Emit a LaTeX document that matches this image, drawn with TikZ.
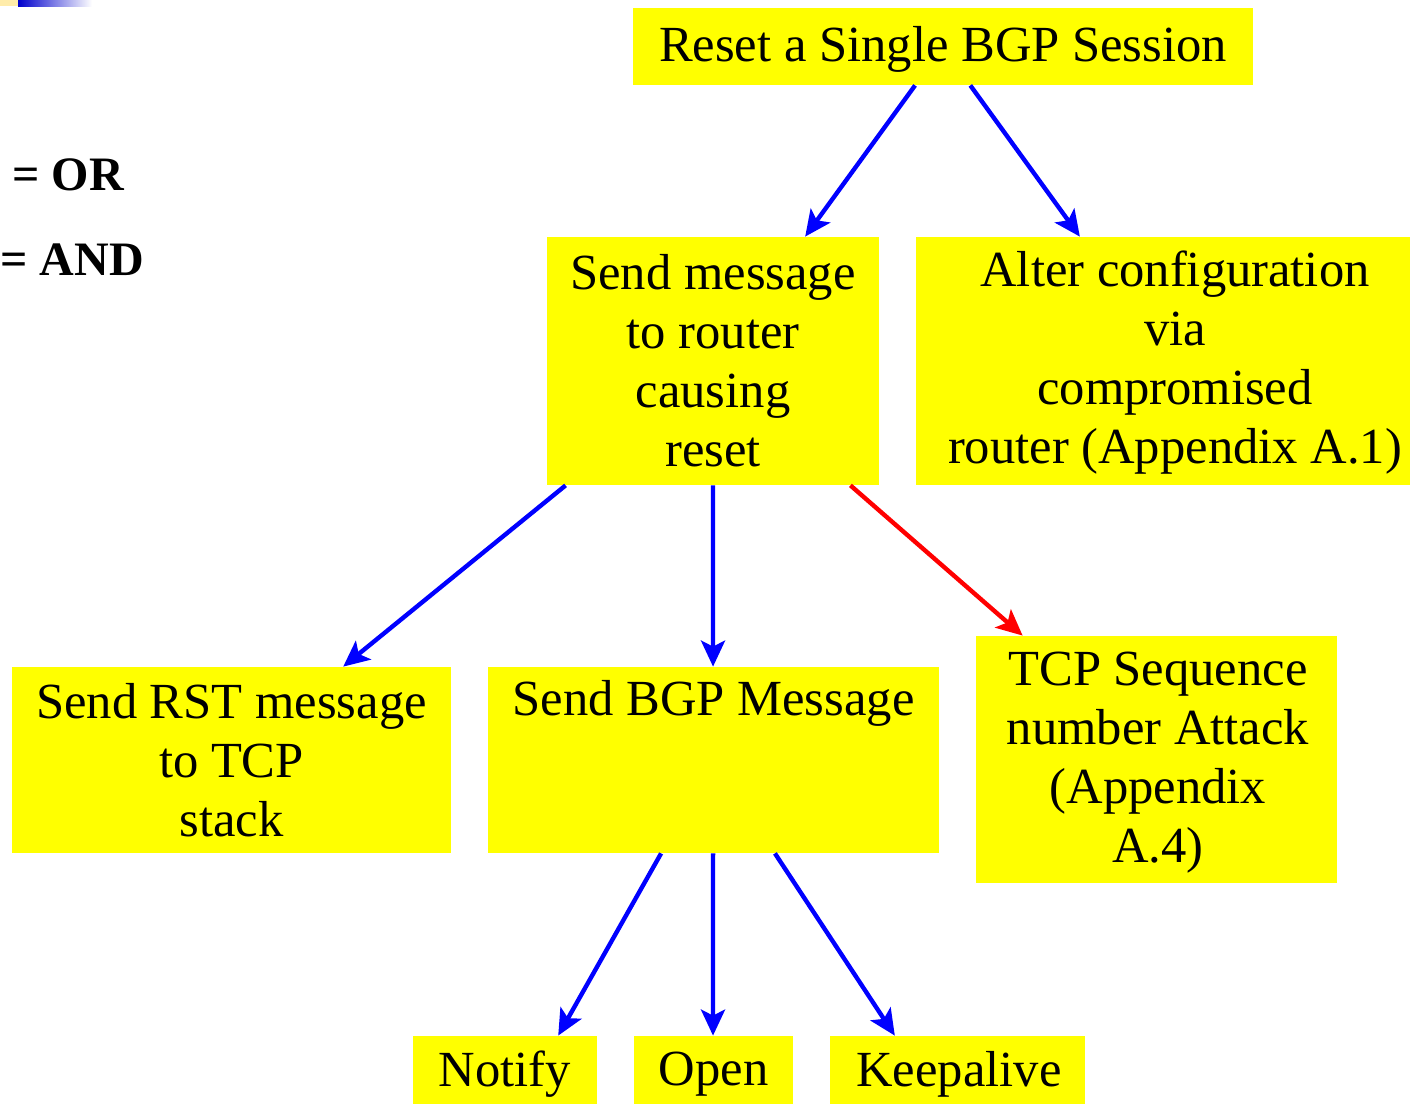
\documentclass[tikz,border=0pt]{standalone}
\usepackage{fontspec}
\setmainfont{Liberation Serif}
\usetikzlibrary{arrows.meta,calc}
\definecolor{boxyellow}{RGB}{255,255,0}
\definecolor{arrblue}{RGB}{0,0,255}
\definecolor{arrred}{RGB}{255,0,0}
\begin{document}
\begin{tikzpicture}[x=0.5pt,y=-0.5pt,
  box/.style={fill=boxyellow,inner sep=0pt,align=center,font=\fontsize{25.3}{29.5}\selectfont},
  lbl/.style={inner sep=0pt,align=center,font=\fontsize{25.3}{29.5}\selectfont},
  leg/.style={inner sep=0pt,anchor=west,font=\fontsize{24}{29}\selectfont\bfseries},
  arr/.style={arrblue,line width=2.2pt,-{Stealth[length=13pt,width=12pt,inset=3pt]}},
  redarr/.style={arr,arrred}]
\useasboundingbox (0,0) rectangle (1410,1104);
\fill[fill={rgb,255:red,255;green,236;blue,170}] (0,0) rectangle (18,6);
\shade[left color=blue!80!black,right color=white] (18,0) rectangle (92,6);
\node[leg] (or) at (12,175) {= OR};
\node[leg] (and) at (0,260) {= AND};
\node[box,minimum width=310pt,minimum height=38.5pt] (top) at (943,46.5) {};
\node[lbl] (toptext) at (943,49) {Reset a Single BGP Session};
\node[box,minimum width=166pt,minimum height=124pt] (send) at (713,361) {Send message\\to router\\causing\\reset};
\node[box,minimum width=247pt,minimum height=124pt] (alter) at (1163,361) {};
\node[lbl] (altertext) at (1175,363) {Alter configuration\\via\\compromised\\router (Appendix A.1)};
\node[box,minimum width=219.5pt,minimum height=93pt] (rst) at (231.5,760) {Send RST message\\to TCP\\stack};
\node[box,minimum width=225.5pt,minimum height=93pt] (bgp) at (713.5,760) {};
\node[lbl] (bgptext) at (713.5,703) {Send BGP Message};
\node[box,minimum width=180.5pt,minimum height=123.5pt] (tcp) at (1156.5,759.5) {};
\node[lbl] (tcptext) at (1158,763) {TCP Sequence\\number Attack\\(Appendix\\A.4)};
\node[box,minimum width=92pt,minimum height=34pt] (notify) at (505,1070) {};
\node[lbl] (notifytext) at (505,1074) {Notify};
\node[box,minimum width=79.5pt,minimum height=34pt] (open) at (713.5,1070) {};
\node[lbl] (opentext) at (713.5,1074) {Open};
\node[box,minimum width=127.5pt,minimum height=34pt] (keep) at (957.5,1070) {};
\node[lbl] (keeptext) at (959,1074) {Keepalive};
\draw[arr] ($(top.south west)!0.455!(top.south east)$) -- ($(send.north west)!0.777!(send.north east)$);
\draw[arr] ($(top.south west)!0.544!(top.south east)$) -- ($(alter.north west)!0.332!(alter.north east)$);
\draw[arr] ($(send.south west)!0.057!(send.south east)$) -- ($(rst.north west)!0.754!(rst.north east)$);
\draw[arr] ($(send.south west)!0.5!(send.south east)$) -- ($(bgp.north west)!0.499!(bgp.north east)$);
\draw[redarr] ($(send.south west)!0.913!(send.south east)$) -- ($(tcp.north west)!0.13!(tcp.north east)$);
\draw[arr] ($(bgp.south west)!0.384!(bgp.south east)$) -- ($(notify.north west)!0.788!(notify.north east)$);
\draw[arr] ($(bgp.south west)!0.499!(bgp.south east)$) -- ($(open.north west)!0.497!(open.north east)$);
\draw[arr] ($(bgp.south west)!0.636!(bgp.south east)$) -- ($(keep.north west)!0.255!(keep.north east)$);
\end{tikzpicture}
\end{document}
